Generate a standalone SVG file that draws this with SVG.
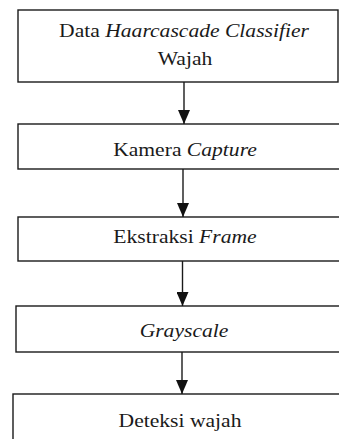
<svg xmlns="http://www.w3.org/2000/svg" width="339" height="439" viewBox="0 0 339 439">
<style>
.box{fill:#fff;stroke:#1a1a1a;stroke-width:1.4}
.lbl{font-family:'Liberation Serif','Times New Roman',Times,'DejaVu Serif',serif;font-size:18px;fill:#1a1a1a;text-anchor:middle}
.it{font-style:italic}
.conn{stroke:#1a1a1a;stroke-width:1.4;fill:none}
</style>
<defs>
<marker id="ah" viewBox="0 0 14 12" refX="14" refY="6" markerWidth="14" markerHeight="12" markerUnits="userSpaceOnUse" orient="auto">
<path d="M0,0 L14,6 L0,12 z" fill="#111"/>
</marker>
</defs>
<rect width="339" height="439" fill="#fff"/>
<g id="n1">
<rect class="box" x="18" y="10" width="320" height="72"/>
<text class="lbl" font-family="Liberation Serif, serif" transform="translate(184,37) scale(1.2,1)">Data <tspan class="it">Haarcascade Classifier</tspan></text>
<text class="lbl" font-family="Liberation Serif, serif" transform="translate(185,65) scale(1.2,1)">Wajah</text>
</g>
<g id="n2">
<rect class="box" x="18" y="124" width="330" height="45"/>
<text class="lbl" font-family="Liberation Serif, serif" transform="translate(185,156) scale(1.2,1)">Kamera <tspan class="it">Capture</tspan></text>
</g>
<g id="n3">
<rect class="box" x="18" y="217" width="330" height="44"/>
<text class="lbl" font-family="Liberation Serif, serif" transform="translate(185,243) scale(1.2,1)">Ekstraksi <tspan class="it">Frame</tspan></text>
</g>
<g id="n4">
<rect class="box" x="16" y="306" width="330" height="46"/>
<text class="lbl it" font-family="Liberation Serif, serif" transform="translate(184,337) scale(1.2,1)">Grayscale</text>
</g>
<g id="n5">
<rect class="box" x="13" y="394" width="340" height="60"/>
<text class="lbl" font-family="Liberation Serif, serif" transform="translate(180,427) scale(1.2,1)">Deteksi wajah</text>
</g>
<g id="connectors">
<line class="conn" x1="184" y1="82" x2="184" y2="124" marker-end="url(#ah)"/>
<line class="conn" x1="183" y1="169" x2="183" y2="217" marker-end="url(#ah)"/>
<line class="conn" x1="182.5" y1="261" x2="182.5" y2="306" marker-end="url(#ah)"/>
<line class="conn" x1="182" y1="352" x2="182" y2="394" marker-end="url(#ah)"/>
</g>
</svg>
